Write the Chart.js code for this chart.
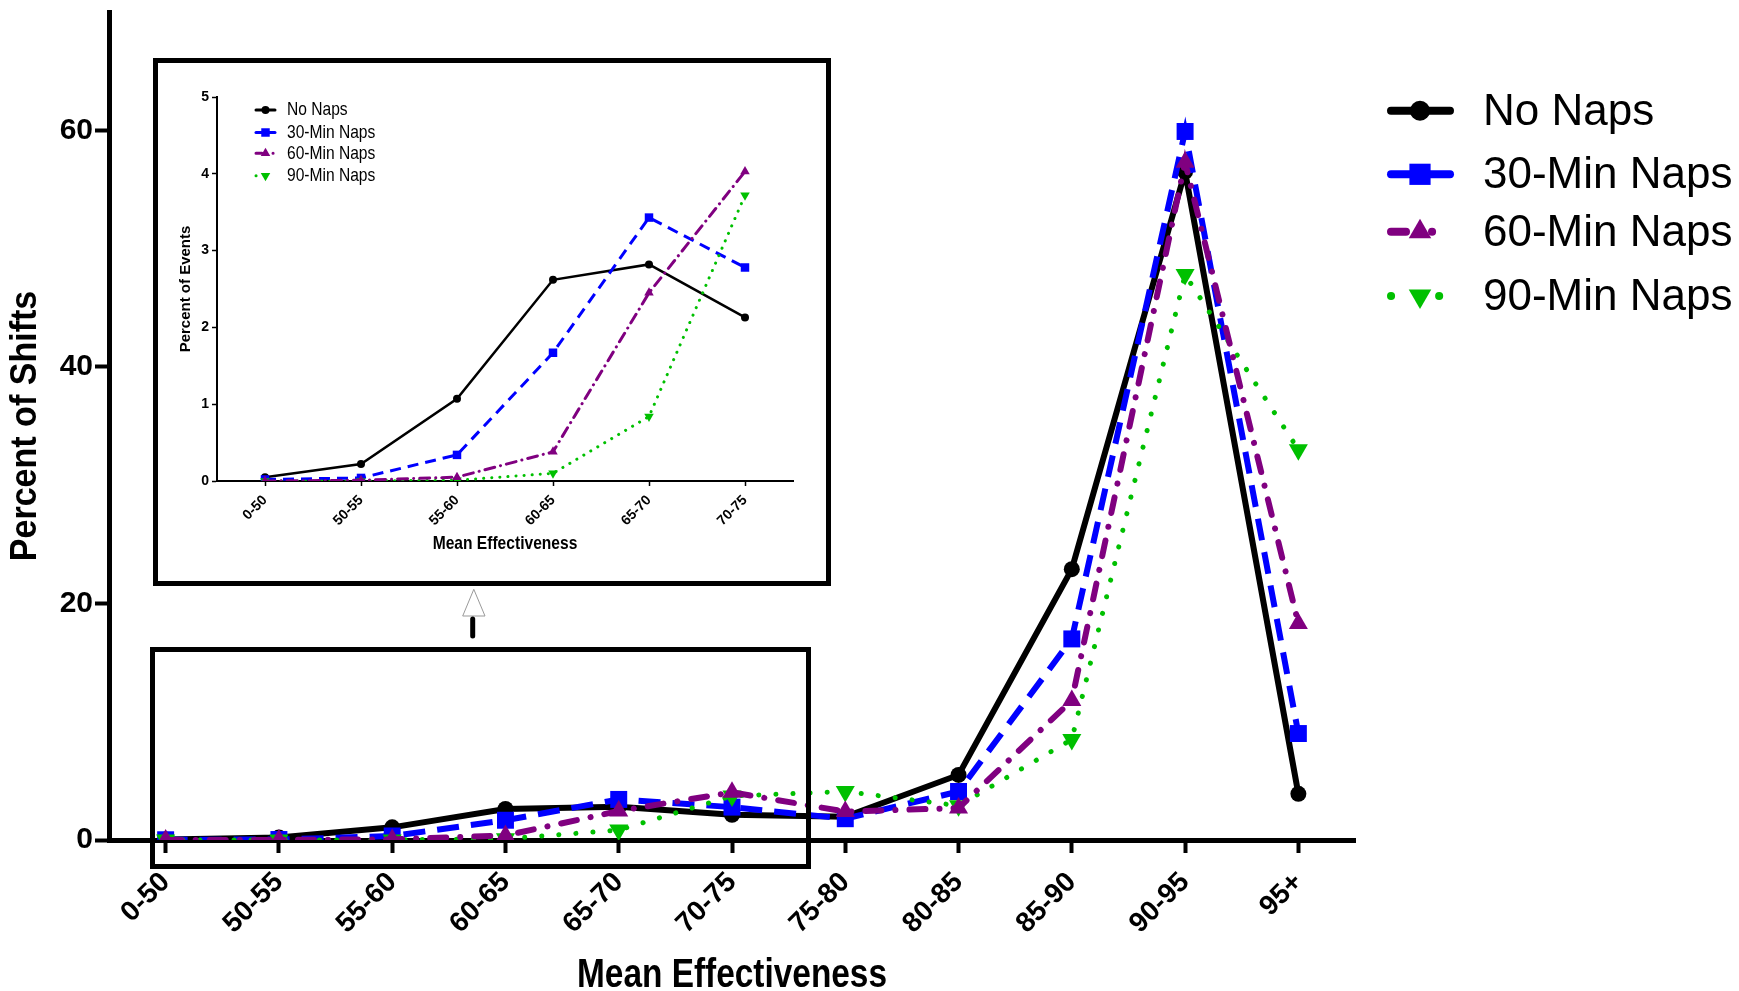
<!DOCTYPE html>
<html>
<head>
<meta charset="utf-8">
<script src="https://cdn.jsdelivr.net/npm/chart.js@4.4.0/dist/chart.umd.min.js"></script>
<style>
  body { margin: 0; background: #fff; }
  #wrap { position: relative; width: 1739px; height: 991px; overflow: hidden; background: #fff; }
  #main { position: absolute; left: 0; top: 0; }
  #insetBox { position: absolute; left: 153px; top: 58px; width: 678px; height: 528px;
              border: 5px solid #000; box-sizing: border-box; background: #fff; }
  #inset { position: absolute; left: 0; top: 0; }
  #zoomBox { position: absolute; left: 150px; top: 647px; width: 661px; height: 222px;
             border: 5px solid #000; box-sizing: border-box; }
  #arrow { position: absolute; left: 450px; top: 580px; }
</style>
</head>
<body>
<div id="wrap">
  <canvas id="main" width="1739" height="991"></canvas>
  <div id="zoomBox"></div>
  <svg id="arrow" width="50" height="70">
    <polygon points="12.7,36 35,36 23.8,9.3" fill="#fff" stroke="#999" stroke-width="1"/>
    <line x1="22.7" y1="39" x2="22.7" y2="56" stroke="#000" stroke-width="5" stroke-linecap="round"/>
  </svg>
  <div id="insetBox"><canvas id="inset" width="668" height="518"></canvas></div>
</div>
<script>
// data
const categories = ['0-50', '50-55', '55-60', '60-65', '65-70', '70-75', '75-80', '80-85', '85-90', '90-95', '95+'];
const seriesNames = ['No Naps', '30-Min Naps', '60-Min Naps', '90-Min Naps'];
const noNaps = [0.05, 0.22, 1.07, 2.62, 2.82, 2.13, 1.97, 5.5, 22.9, 56.5, 3.9];
const naps30 = [0.02, 0.04, 0.34, 1.67, 3.43, 2.78, 1.8, 4.1, 17.0, 59.9, 9.0];
const naps60 = [0, 0.01, 0.05, 0.38, 2.45, 4.03, 2.4, 2.7, 11.8, 57.3, 18.3];
const naps90 = [0, 0, 0.01, 0.1, 0.84, 3.72, 4.1, 2.9, 8.5, 47.8, 33.0];
const mainYTicks = [0, 20, 40, 60];
const insetYTicks = [0, 1, 2, 3, 4, 5];
const insetCount = 6; // inset shows the first six bins

const allSeries = [noNaps, naps30, naps60, naps90];
const colors = ['#000000', '#0000ff', '#800080', '#00c000'];
const pointStyles = ['circle', 'rect', 'triangle', 'triangle'];
const pointRotations = [0, 0, 0, 180];
const drawOrder = [4, 3, 1, 2];

const SANS = '"Liberation Sans", Arial, sans-serif';
const NARROW_X = 0.82; // squeeze to mimic Arial Narrow

// line looks for the big chart and for the inset
const mainLook = {
  width: [6, 6, 6, 5],
  dash: [[], [22, 12], [16, 14, 0.1, 14], [0.1, 17]],
  cap: ['butt', 'butt', 'round', 'round'],
  radius: [8, 12, 11, 11]
};
const insetLook = {
  width: [2.5, 3, 3, 3],
  dash: [[], [11, 7], [10, 6, 0.1, 6], [0.1, 8]],
  cap: ['butt', 'butt', 'round', 'round'],
  radius: [4, 6, 5.5, 5.5]
};

function buildDatasets(look, count) {
  return allSeries.map((vals, i) => ({
    label: seriesNames[i],
    data: count ? vals.slice(0, count) : vals,
    borderColor: colors[i],
    backgroundColor: colors[i],
    pointBackgroundColor: colors[i],
    pointBorderWidth: 0,
    borderWidth: look.width[i],
    borderDash: look.dash[i],
    borderCapStyle: look.cap[i],
    pointStyle: pointStyles[i],
    pointRotation: pointRotations[i],
    pointRadius: look.radius[i],
    tension: 0,
    fill: false,
    order: drawOrder[i]
  }));
}

function squeezedText(ctx, text, x, y, font, rot, sx) {
  ctx.save();
  ctx.translate(x, y);
  ctx.rotate(rot);
  ctx.scale(sx, 1);
  ctx.font = font;
  ctx.fillStyle = '#000';
  ctx.textBaseline = 'middle';
  ctx.textAlign = 'center';
  ctx.fillText(text, 0, 0);
  ctx.restore();
}

// legend drawn by hand so the line samples keep their dash look
function legendPlugin(cfg) {
  return {
    id: 'handLegend',
    afterDraw(chart) {
      const ctx = chart.ctx;
      chart.data.datasets.forEach((ds, i) => {
        const y = cfg.rows[i];
        ctx.save();
        ctx.strokeStyle = colors[i];
        ctx.lineWidth = cfg.lineWidth;
        ctx.lineCap = 'round';
        ctx.setLineDash(cfg.dash[i]);
        ctx.beginPath();
        ctx.moveTo(cfg.x0, y);
        ctx.lineTo(cfg.x1, y);
        ctx.stroke();
        ctx.setLineDash([]);
        ctx.fillStyle = colors[i];
        Chart.helpers.drawPoint(ctx, {
          pointStyle: pointStyles[i], rotation: pointRotations[i],
          radius: cfg.radius[i], borderWidth: 0
        }, cfg.xm, y);
        ctx.translate(cfg.textX, y + cfg.textDy);
        ctx.scale(cfg.sx, 1);
        ctx.fillStyle = '#000';
        ctx.font = cfg.font;
        ctx.textAlign = 'left';
        ctx.textBaseline = 'middle';
        ctx.fillText(ds.label, 0, 0);
        ctx.restore();
      });
    }
  };
}

// axis titles in a condensed bold face
function titlePlugin(cfg) {
  return {
    id: 'narrowTitles',
    afterDraw(chart) {
      const a = chart.chartArea;
      if (cfg.x) squeezedText(chart.ctx, cfg.x.text, (a.left + a.right) / 2, chart.height - cfg.x.fromBottom,
                              cfg.x.font, 0, cfg.x.sx);
      if (cfg.y) squeezedText(chart.ctx, cfg.y.text, cfg.y.x, (a.top + a.bottom) / 2,
                              cfg.y.font, -Math.PI / 2, cfg.y.sx);
    }
  };
}

function noScalePad(s) { s.paddingTop = 0; s.paddingBottom = 0; }

// main chart
new Chart(document.getElementById('main'), {
  type: 'line',
  data: { labels: categories, datasets: buildDatasets(mainLook) },
  options: {
    responsive: false,
    animation: false,
    layout: { padding: { top: 10, right: 384, bottom: 0, left: 0 } },
    plugins: { legend: { display: false }, tooltip: { enabled: false } },
    scales: {
      x: {
        offset: true,
        grid: { display: true, drawOnChartArea: false, drawTicks: true, tickLength: 13, tickWidth: 4, tickColor: '#000' },
        border: { display: true, color: '#000', width: 5 },
        ticks: { color: '#000', autoSkip: false, minRotation: 45, maxRotation: 45, padding: 13,
                 font: { family: SANS, weight: 'bold', size: 28 } },
        afterFit(s) { s.height = 151; }
      },
      y: {
        min: 0, max: 70,
        afterBuildTicks(s) { s.ticks = mainYTicks.map(v => ({ value: v })); },
        grid: { display: true, drawOnChartArea: false, drawTicks: true, tickLength: 14, tickWidth: 4, tickColor: '#000' },
        border: { display: true, color: '#000', width: 5 },
        ticks: { color: '#000', padding: 2, font: { family: SANS, weight: 'bold', size: 30 } },
        afterFit(s) { s.width = 109; noScalePad(s); }
      }
    }
  },
  plugins: [
    titlePlugin({
      x: { text: 'Mean Effectiveness', fromBottom: 15, font: 'bold 40px ' + SANS, sx: 0.835 },
      y: { text: 'Percent of Shifts', x: 26, font: 'bold 37px ' + SANS, sx: 0.92 }
    }),
    legendPlugin({
      rows: [110.7, 174.3, 231.7, 296], x0: 1391, x1: 1450, xm: 1420, textX: 1483, textDy: 2, sx: 1,
      lineWidth: 8, font: '44px ' + SANS,
      dash: [[], [], [15, 26, 0.1, 100], [0.1, 48, 0.1, 100]],
      radius: [10, 15, 13, 13]
    })
  ]
});

// inset chart
new Chart(document.getElementById('inset'), {
  type: 'line',
  data: { labels: categories.slice(0, insetCount), datasets: buildDatasets(insetLook, insetCount) },
  options: {
    responsive: false,
    animation: false,
    layout: { padding: { top: 34, right: 33, bottom: 0, left: 0 } },
    plugins: { legend: { display: false }, tooltip: { enabled: false } },
    scales: {
      x: {
        offset: true,
        grid: { display: true, drawOnChartArea: false, drawTicks: true, tickLength: 5, tickWidth: 1.5, tickColor: '#000' },
        border: { display: true, color: '#000', width: 2 },
        ticks: { color: '#000', autoSkip: false, minRotation: 45, maxRotation: 45, padding: 6,
                 font: { family: SANS, weight: 'bold', size: 14 } },
        afterFit(s) { s.height = 100; }
      },
      y: {
        min: 0, max: 5,
        afterBuildTicks(s) { s.ticks = insetYTicks.map(v => ({ value: v })); },
        grid: { display: true, drawOnChartArea: false, drawTicks: true, tickLength: 5, tickWidth: 1.5, tickColor: '#000' },
        border: { display: true, color: '#000', width: 2 },
        ticks: { color: '#000', padding: 3, font: { family: SANS, weight: 'bold', size: 14 } },
        title: { display: true, text: 'Percent of Events', color: '#000',
                 font: { family: SANS, weight: 'bold', size: 15, lineHeight: 1 }, padding: { top: 20, bottom: 0 } },
        afterFit(s) { s.width = 59; noScalePad(s); }
      }
    }
  },
  plugins: [
    titlePlugin({
      x: { text: 'Mean Effectiveness', fromBottom: 37, font: 'bold 19px ' + SANS, sx: NARROW_X }
    }),
    legendPlugin({
      rows: [47, 69.5, 90.3, 112.8], x0: 98, x1: 117, xm: 107.5, textX: 129, textDy: 0, sx: NARROW_X,
      lineWidth: 3, font: '19px ' + SANS,
      dash: [[], [], [6, 11, 0.1, 100], [0.1, 9, 0.1, 100]],
      radius: [4, 6, 5.5, 5.5]
    })
  ]
});
</script>
</body>
</html>
